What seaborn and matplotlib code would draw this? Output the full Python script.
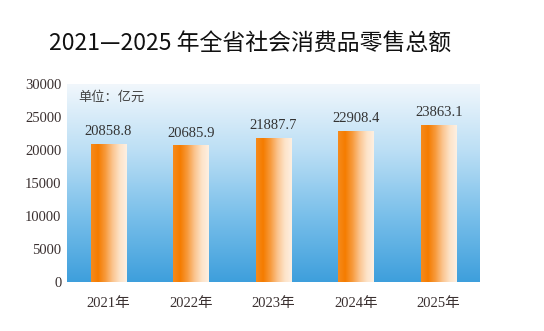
import numpy as np
import pandas as pd
import matplotlib
matplotlib.use("Agg")
import matplotlib.pyplot as plt
from matplotlib.colors import LinearSegmentedColormap
import seaborn as sns

years = ["2021年", "2022年", "2023年", "2024年", "2025年"]
values = [20858.8, 20685.9, 21887.7, 22908.4, 23863.1]
value_labels = ["20858.8", "20685.9", "21887.7", "22908.4", "23863.1"]
yticks = [0, 5000, 10000, 15000, 20000, 25000, 30000]

sns.set_theme(style="white")
plt.rcParams['font.family'] = ['Liberation Serif', 'Noto Sans CJK SC', 'DejaVu Sans']

fig = plt.figure(figsize=(5.44, 3.31), dpi=100)
ax = fig.add_axes([67/544, 1 - 282/331, 413/544, (282 - 84)/331])

df = pd.DataFrame({"year": years, "value": values})
sns.barplot(data=df, x="year", y="value", ax=ax, width=0.43, color="#f57c00", zorder=3)

ax.set_xlim(-0.5, 4.5)
ax.set_ylim(0, 30000)

# background gradient
bg = LinearSegmentedColormap.from_list("bg", ["#3e9fdc", "#79bfea", "#bcdff5", "#f1f7fc"])
grad = np.linspace(0, 1, 256).reshape(-1, 1)
ax.imshow(grad, cmap=bg, origin="lower", aspect="auto",
          extent=(-0.5, 4.5, 0, 30000), zorder=0)

# bar gradients
barc = LinearSegmentedColormap.from_list(
    "bar", ["#f68a1c", "#f57c00", "#f79a3c", "#fbc48e", "#fde3c8", "#fef0e2"])
hgrad = np.linspace(0, 1, 256).reshape(1, -1)
for p in ax.patches:
    x0, y0 = p.get_x(), p.get_y()
    w, h = p.get_width(), p.get_height()
    im = ax.imshow(hgrad, cmap=barc, aspect="auto",
                   extent=(x0, x0 + w, y0, y0 + h), zorder=4)
    im.set_clip_path(p)
    p.set_facecolor("none")
    p.set_edgecolor("none")

ax.set_xlim(-0.5, 4.5)
ax.set_ylim(0, 30000)

for i, (v, lab) in enumerate(zip(values, value_labels)):
    ax.text(i, v + 900, lab, ha="center", va="bottom", fontsize=10.5,
            color="#333333", family="Liberation Serif", zorder=5)

ax.text(0.027, 0.935, "单位：亿元", transform=ax.transAxes, fontsize=9.5,
        color="#444444", family=["Noto Sans CJK SC"], ha="left", va="center", zorder=5)

ax.set_yticks(yticks)
ax.set_yticklabels([str(t) for t in yticks])
ax.set_xlabel("")
ax.set_ylabel("")
ax.tick_params(axis="y", labelsize=10.5, colors="#3a3030", pad=4, length=0)
ax.tick_params(axis="x", labelsize=10.5, colors="#3a3030", pad=11, length=0)
for lab in ax.get_xticklabels():
    lab.set_family(["Liberation Serif", "Noto Sans CJK SC"])
for s in ax.spines.values():
    s.set_visible(False)

fig.text(250/544, 1 - 43/331, "2021—2025 年全省社会消费品零售总额", ha="center", va="center",
         fontsize=16.5, color="#111111", family=["Noto Sans CJK SC", "DejaVu Sans"])

fig.savefig("out.png", dpi=100, facecolor="white")
